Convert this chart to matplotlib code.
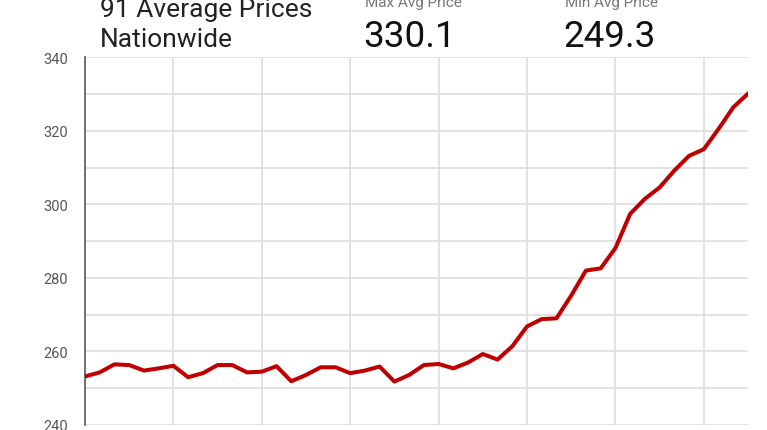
# 91 average prices nationwide - line chart
import numpy as np
import matplotlib.pyplot as plt

plt.rcParams['font.family'] = ['Roboto', 'DejaVu Sans']

# weekly average price
prices = [253.2, 254.3, 256.5, 256.3, 254.8, 255.4, 256.1, 253.0, 254.1, 256.3,
          256.3, 254.3, 254.5, 256.0, 251.9, 253.6, 255.7, 255.7, 254.1, 254.8,
          255.9, 251.8, 253.6, 256.3, 256.6, 255.4, 257.0, 259.3, 257.8, 261.4,
          266.8, 268.8, 269.0, 275.2, 282.0, 282.6, 288.1, 297.4, 301.5, 304.6,
          309.2, 313.2, 315.0, 320.5, 326.4, 330.1]
y_ticks = [240, 260, 280, 300, 320, 340]
title_lines = ['91 Average Prices', 'Nationwide']
max_label, max_value = 'Max Avg Price', '330.1'
min_label, min_value = 'Min Avg Price', '249.3'

W, H = 767, 431
fig = plt.figure(figsize=(W / 100, H / 100), dpi=100)
ax = fig.add_axes([85 / W, (H - 426) / H, (748 - 85) / W, (426 - 58.3) / H])

x = np.arange(len(prices))
ax.plot(x, prices, color='#c00000', linewidth=2.9, solid_joinstyle='round', zorder=3)

ax.set_xlim(0, len(prices) - 1)
ax.set_ylim(240, 340)
ax.set_yticks(y_ticks)
ax.set_yticks(np.arange(240, 341, 10), minor=True)
ax.set_xticks(np.arange(0, len(prices), 6))
ax.set_xticklabels([])
ax.grid(True, which='both', axis='y', color='#dddddd', linewidth=1.2)
ax.grid(True, axis='x', color='#dddddd', linewidth=1.2)
ax.tick_params(axis='both', which='both', length=0)
ax.tick_params(axis='y', labelsize=10.5, labelcolor='#555555', pad=12)
for s in ['top', 'right', 'bottom']:
    ax.spines[s].set_visible(False)
ax.spines['left'].set_color('#666666')
ax.spines['left'].set_linewidth(1.3)

# header texts
fig.text(100 / W, 1 - 10 / H, title_lines[0], fontsize=19, color='#222222', va='center')
fig.text(100 / W, 1 - 40 / H, title_lines[1], fontsize=19, color='#222222', va='center')
fig.text(365 / W, 1 - 3 / H, max_label, fontsize=11, color='#777777', va='center')
fig.text(363 / W, 1 - 37 / H, max_value, fontsize=26.5, color='#111111', va='center')
fig.text(565 / W, 1 - 3 / H, min_label, fontsize=11, color='#777777', va='center')
fig.text(563 / W, 1 - 37 / H, min_value, fontsize=26.5, color='#111111', va='center')

plt.savefig('out.png', dpi=100)
